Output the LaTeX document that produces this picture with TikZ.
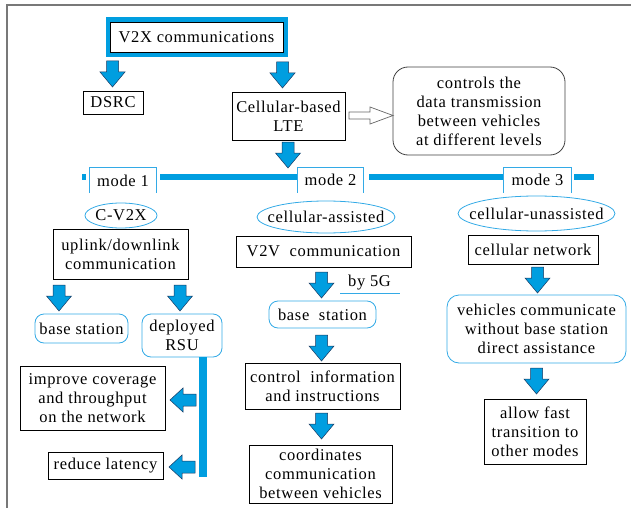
\documentclass[tikz,border=0pt]{standalone}
\usepackage{fontspec}
\setmainfont{Liberation Serif}[LetterSpace=4]
\usetikzlibrary{calc}
\definecolor{vblue}{RGB}{0,158,224}
\definecolor{vline}{RGB}{51,170,230}
\definecolor{vdark}{RGB}{25,55,95}
\definecolor{vframe}{RGB}{120,120,120}
\begin{document}
\begin{tikzpicture}[x=1pt,y=-1pt,
  every node/.style={font=\fontsize{16.5}{19}\selectfont, inner sep=0pt, align=center},
  box/.style={draw=black, line width=0.7pt, fill=white},
  rbox/.style={draw=vline, line width=0.8pt, rounded corners=9pt, fill=white},
  ctrlbox/.style={draw=black!75, line width=0.8pt, rounded corners=15pt, fill=white},
  modebox/.style={fill=white, minimum height=25pt},
  modeedge/.style={draw=vline, line width=0.8pt},
  ellline/.style={draw=vline, line width=0.8pt},
  arrowst/.style={fill=vblue, draw=vdark, line width=0.5pt, line join=miter},
  openarr/.style={fill=white, draw=black!60, line width=0.7pt},
  downarr/.pic={\path[arrowst] (-6,0) -- (6,0) -- (6,11) -- (12.5,11) -- (0,26) -- (-12.5,11) -- (-6,11) -- cycle;},
  leftarr/.pic={\path[arrowst] (0,-6) -- (0,6) -- (-13,6) -- (-13,12) -- (-26,0) -- (-13,-12) -- (-13,-6) -- cycle;},
  rightopen/.pic={\path[openarr] (0,-3.5) -- (21,-3.5) -- (21,-8.5) -- (44,0) -- (21,8.5) -- (21,3.5) -- (0,3.5) -- cycle;}
]
\useasboundingbox (0,0) rectangle (631,508);
% frame
\draw[vframe, line width=1.2pt] (7,508) -- (7,5) -- (631,5);

% top
\node[fill=vblue, minimum width=182pt, minimum height=40pt] (v2xo) at (197,37) {};
\node[box, minimum width=173pt, minimum height=30pt] (v2x) at (196.5,37) {V2X communications};
\pic at (112.5,61) {downarr};
\pic at (282.5,62) {downarr};
\node[box, minimum width=60pt, minimum height=23pt] (dsrc) at (113,102.5) {DSRC};
\node[box, minimum width=113pt, minimum height=48pt] (lte) at (288.5,116) {Cellular-based\\LTE};
\node[ctrlbox, minimum width=172pt, minimum height=88pt] (ctrl) at (479,111) {controls the\\data transmission\\between vehicles\\at different levels};
\pic at (349,115.5) {rightopen};
\pic at (288,142) {downarr};

% mode bar
\draw[vblue, line width=6pt] (82,177) -- (594,177);
\fill[white] (86,172) rectangle (160,182);
\fill[white] (297,172) rectangle (369,182);
\fill[white] (503,172) rectangle (574,182);
\node[modebox, minimum width=66pt] (m1) at (123,180.5) {mode 1};
\node[modebox, minimum width=65pt] (m2) at (330.5,180) {mode 2};
\node[modebox, minimum width=67pt] (m3) at (537.5,180) {mode 3};
\draw[modeedge] (m1.south west) |- (m1.north east) -- (m1.south east);
\draw[modeedge] (m2.south west) |- (m2.north east) -- (m2.south east);
\draw[modeedge] (m3.south west) |- (m3.north east) -- (m3.south east);

% ellipses
\node (cv) at (121,215.5) {C-V2X};
\draw[ellline] (cv.center) ellipse [x radius=36pt, y radius=12.5pt];
\node (ca) at (326,217) {cellular-assisted};
\draw[ellline] (ca.center) ellipse [x radius=69pt, y radius=16pt];
\node (cu) at (536.5,213.5) {cellular-unassisted};
\draw[ellline] (cu.center) ellipse [x radius=78.5pt, y radius=17.5pt];

% mode 1 column
\node[box, minimum width=135pt, minimum height=50pt] (ul) at (120.5,254) {uplink/downlink\\communication};
\pic at (59,285) {downarr};
\pic at (180,285) {downarr};
\node[rbox, minimum width=93pt, minimum height=29pt] (bs1) at (81.5,328.5) {base station};
\node[rbox, minimum width=80pt, minimum height=43pt] (rsu) at (182,335.5) {deployed\\RSU};
\fill[vblue] (199,357) rectangle (207,477);
\pic at (196,400) {leftarr};
\pic at (195,467) {leftarr};
\node[box, minimum width=145pt, minimum height=64pt] (imp) at (92.5,398) {improve coverage\\and throughput\\on the network};
\node[box, minimum width=115pt, minimum height=27pt] (lat) at (105.5,465.5) {reduce latency};

% mode 2 column
\node[box, minimum width=175pt, minimum height=31pt] (v2v) at (323.5,251.5) {V2V\ \ communication};
\pic at (321.5,272) {downarr};
\node (by5g) at (369.5,283) {by 5G};
\draw[vline, line width=0.8pt] (340,293) -- (400,293);
\node[rbox, minimum width=107pt, minimum height=27pt] (bs2) at (322.5,314.5) {base\ \ station};
\pic at (321.5,335) {downarr};
\node[box, minimum width=155pt, minimum height=46pt] (ci) at (322.5,386) {control\ \ information\\and instructions};
\pic at (321.5,413) {downarr};
\node[box, minimum width=143pt, minimum height=58pt] (co) at (320.5,474) {coordinates\\communication\\between vehicles};

% mode 3 column
\node[box, minimum width=130pt, minimum height=29pt] (cn) at (533,249.5) {cellular network};
\pic at (537.5,267) {downarr};
\node[rbox, rounded corners=12pt, minimum width=179pt, minimum height=68pt] (veh) at (536.5,329) {vehicles communicate\\without base station\\direct assistance};
\pic at (536.5,368) {downarr};
\node[box, minimum width=102pt, minimum height=65pt] (af) at (535,431.5) {allow fast\\transition to\\other modes};
\end{tikzpicture}
\end{document}
